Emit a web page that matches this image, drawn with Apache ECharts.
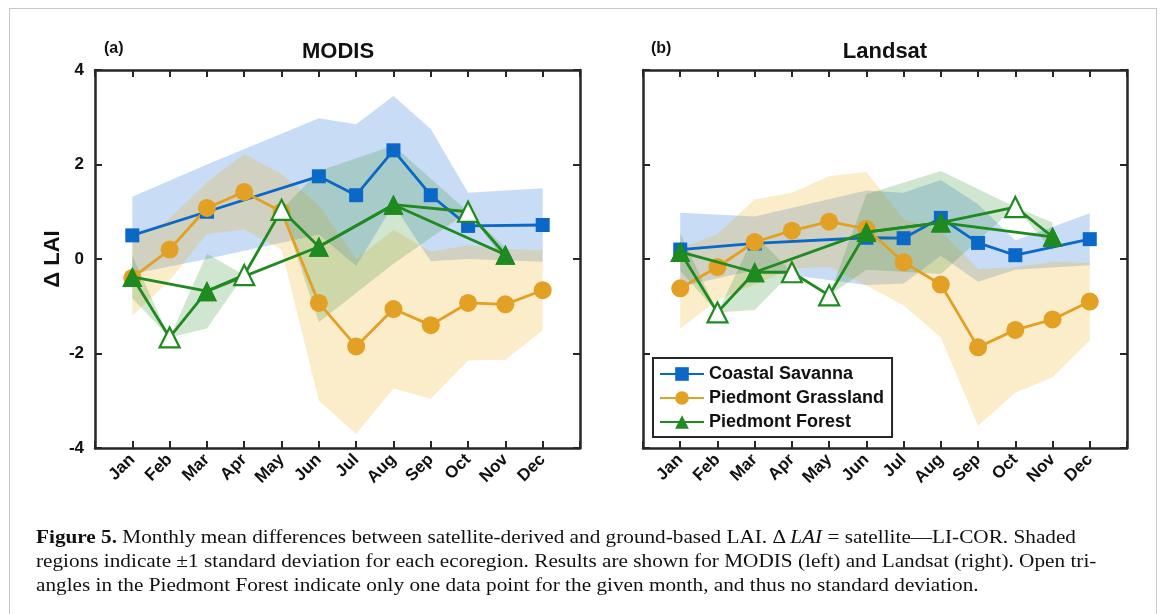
<!DOCTYPE html>
<html>
<head>
<meta charset="utf-8">
<style>
    html, body { margin: 0; padding: 0; background: #fff; }
    #frame { position: absolute; left: 9px; top: 8px; width: 1146px; height: 640px; border: 1px solid #c8c8c8; }
    #chart { position: absolute; left: 0; top: 0; width: 1166px; height: 614px; }
    #cap { position: absolute; left: 36px; top: 525px; font-family: "Liberation Serif", serif; font-size: 18px; line-height: 24px; color: #111; white-space: nowrap; transform: scaleX(1.18); transform-origin: 0 0; }
</style>
</head>
<body>
<div id="frame"></div>
<div id="chart"></div>
<div id="cap">
    <div><b>Figure 5.</b> Monthly mean differences between satellite-derived and ground-based LAI. &Delta; <i>LAI</i> = satellite&mdash;LI-COR. Shaded</div>
    <div>regions indicate &plusmn;1 standard deviation for each ecoregion. Results are shown for MODIS (left) and Landsat (right). Open tri-</div>
    <div>angles in the Piedmont Forest indicate only one data point for the given month, and thus no standard deviation.</div>
</div>
<script src="https://cdn.jsdelivr.net/npm/echarts@6/dist/echarts.min.js"></script>
<script>
    var months = ['Jan', 'Feb', 'Mar', 'Apr', 'May', 'Jun', 'Jul', 'Aug', 'Sep', 'Oct', 'Nov', 'Dec'];
    var yTicks = [-4, -2, 0, 2, 4];

    // MODIS (a)  -- sd 0 = single data point (open triangle), null = no data
    var modisSavanna   = [0.50, null, 1.00, null, null, 1.75, 1.35, 2.30, 1.35, 0.70, null, 0.72];
    var modisSavannaSd = [0.82, null, 1.00, null, null, 1.23, 1.50, 1.15, 1.40, 0.70, null, 0.78];
    var modisGrass     = [-0.40, 0.20, 1.08, 1.42, 1.00, -0.93, -1.85, -1.06, -1.40, -0.93, -0.96, -0.66];
    var modisGrassSd   = [0.80, 0.65, 0.55, 0.80, 0.80, 2.07, 1.85, 1.68, 1.56, 1.22, 1.17, 0.85];
    var modisForest    = [-0.38, -1.66, -0.68, -0.34, 1.04, 0.26, null, 1.15, null, 1.00, 0.09, null];
    var modisForestSd  = [0.45, 0, 0.79, 0, 0, 1.60, null, 1.25, null, 0, 0.15, null];

    // Landsat (b)
    var landsatSavanna   = [0.20, null, 0.33, null, null, 0.45, 0.44, 0.87, 0.34, 0.08, null, 0.42];
    var landsatSavannaSd = [0.78, null, 0.57, null, null, 1.00, 0.96, 0.80, 0.82, 0.31, null, 0.55];
    var landsatGrass     = [-0.62, -0.17, 0.36, 0.60, 0.79, 0.64, -0.07, -0.54, -1.87, -1.50, -1.28, -0.90];
    var landsatGrassSd   = [0.85, 0.70, 0.90, 0.80, 0.96, 1.20, 0.91, 1.12, 1.66, 1.33, 1.22, 0.82];
    var landsatForest    = [0.15, -1.13, -0.28, -0.28, -0.77, 0.57, null, 0.77, null, 1.10, 0.47, null];
    var landsatForestSd  = [0.40, 0, 0.80, 0, 0, 0.80, null, 1.09, null, 0, 0.30, null];

    var BLUE = '#0b68c6', ORANGE = '#e2a024', GREEN = '#1f8a1f';
    var FONT = 'Liberation Sans';
    var AX = '#262626';

    function pts(mean) {
        var out = [];
        mean.forEach(function (v, i) { if (v != null) out.push([i + 1, v]); });
        return out;
    }

    function band(mean, sd, fill, gi) {
        var p = [];
        mean.forEach(function (v, i) {
            if (v != null && sd[i] != null) p.push([i + 1, v - sd[i], v + sd[i]]);
        });
        return {
            type: 'custom', xAxisIndex: gi * 2, yAxisIndex: gi * 2, silent: true, z: 1,
            data: p,
            renderItem: function (params, api) {
                if (params.dataIndex !== 0) return;
                var top = p.map(function (d) { return api.coord([d[0], d[2]]); });
                var bot = p.map(function (d) { return api.coord([d[0], d[1]]); }).reverse();
                return { type: 'polygon', shape: { points: top.concat(bot) }, style: { fill: fill } };
            }
        };
    }

    function line(name, mean, color, symbol, size, gi) {
        return {
            name: name, type: 'line', xAxisIndex: gi * 2, yAxisIndex: gi * 2, z: 3,
            data: pts(mean), symbol: symbol, symbolSize: size, showAllSymbol: true,
            lineStyle: { color: color, width: 2.8 },
            itemStyle: { color: color, opacity: 1 }
        };
    }

    // forest: one line through every month, one through the months with a standard deviation
    function forest(mean, sd, gi) {
        var all = mean.map(function (v, i) {
            if (v == null) return null;
            if (sd[i] === 0) return { value: [i + 1, v], itemStyle: { color: '#fff', borderColor: GREEN, borderWidth: 2.2 } };
            return { value: [i + 1, v] };
        }).filter(Boolean);
        var filled = [];
        mean.forEach(function (v, i) { if (v != null && sd[i] > 0) filled.push([i + 1, v]); });
        return [
            {
                name: 'Piedmont Forest', type: 'line', xAxisIndex: gi * 2, yAxisIndex: gi * 2, z: 4,
                data: all, symbol: 'triangle', symbolSize: 20, showAllSymbol: true,
                lineStyle: { color: GREEN, width: 2.8 }, itemStyle: { color: GREEN }
            },
            {
                name: 'forest-filled', type: 'line', xAxisIndex: gi * 2, yAxisIndex: gi * 2, z: 4,
                data: filled, symbol: 'triangle', symbolSize: 20, showAllSymbol: true,
                lineStyle: { color: GREEN, width: 2.8 }, itemStyle: { color: GREEN }
            }
        ];
    }

    function xAxes(gi) {
        var base = {
            gridIndex: gi, type: 'value', min: 0, max: 13, interval: 1,
            axisLine: { show: true, onZero: false, lineStyle: { color: AX, width: 2.5 } },
            axisTick: { show: true, inside: true, length: 7, lineStyle: { color: AX, width: 2 } },
            splitLine: { show: false }
        };
        return [
            Object.assign({}, base, {
                position: 'bottom',
                axisLabel: {
                    rotate: 45, margin: 9, fontFamily: FONT, fontWeight: 'bold', fontSize: 17, color: '#111',
                    formatter: function (v) { return months[v - 1] || ''; }
                }
            }),
            Object.assign({}, base, { position: 'top', axisLabel: { show: false } })
        ];
    }

    function yAxes(gi, labels) {
        var base = {
            gridIndex: gi, type: 'value', min: yTicks[0], max: yTicks[yTicks.length - 1], interval: 2,
            axisLine: { show: true, onZero: false, lineStyle: { color: AX, width: 2.5 } },
            axisTick: { show: true, inside: true, length: 7, lineStyle: { color: AX, width: 2 } },
            splitLine: { show: false }
        };
        var left = Object.assign({}, base, {
            position: 'left',
            axisLabel: { show: labels, margin: 11, fontFamily: FONT, fontWeight: 'bold', fontSize: 17, color: '#111' }
        });
        if (labels) {
            left.name = '\u0394 LAI';
            left.nameLocation = 'middle';
            left.nameGap = 31;
            left.nameTextStyle = { fontFamily: FONT, fontWeight: 'bold', fontSize: 22, color: '#111' };
        }
        return [left, Object.assign({}, base, { position: 'right', axisLabel: { show: false } })];
    }

    var chart = echarts.init(document.getElementById('chart'));

    var series = [
        band(modisSavanna, modisSavannaSd, 'rgba(60,130,220,0.28)', 0),
        band(modisGrass, modisGrassSd, 'rgba(237,177,32,0.24)', 0),
        band(modisForest, modisForestSd, 'rgba(46,139,46,0.22)', 0),
        band(landsatSavanna, landsatSavannaSd, 'rgba(60,130,220,0.28)', 1),
        band(landsatGrass, landsatGrassSd, 'rgba(237,177,32,0.24)', 1),
        band(landsatForest, landsatForestSd, 'rgba(46,139,46,0.22)', 1),
        line('Coastal Savanna', modisSavanna, BLUE, 'rect', 14, 0),
        line('Piedmont Grassland', modisGrass, ORANGE, 'circle', 18, 0),
        line('Coastal Savanna', landsatSavanna, BLUE, 'rect', 14, 1),
        line('Piedmont Grassland', landsatGrass, ORANGE, 'circle', 18, 1)
    ].concat(forest(modisForest, modisForestSd, 0), forest(landsatForest, landsatForestSd, 1));

    var option = {
        animation: false,
        grid: [
            { left: 95, top: 70, width: 485, height: 378 },
            { left: 643, top: 70, width: 484, height: 378 }
        ],
        xAxis: xAxes(0).concat(xAxes(1)),
        yAxis: yAxes(0, true).concat(yAxes(1, false)),
        legend: {
            data: ['Coastal Savanna', 'Piedmont Grassland', 'Piedmont Forest'],
            orient: 'vertical', left: 653, top: 358,
            itemWidth: 44, itemHeight: 17, itemGap: 6,
            padding: [7, 8, 6, 6],
            borderColor: AX, borderWidth: 2, backgroundColor: '#fff',
            textStyle: { fontFamily: FONT, fontWeight: 'bold', fontSize: 18, color: '#111' }
        },
        graphic: [
            { type: 'text', left: 104, top: 41, style: { text: '(a)', font: 'bold 16px ' + FONT, fill: '#111' } },
            { type: 'text', x: 338, y: 52, style: { text: 'MODIS', font: 'bold 22px ' + FONT, fill: '#111', align: 'center', verticalAlign: 'middle' } },
            { type: 'text', left: 651, top: 41, style: { text: '(b)', font: 'bold 16px ' + FONT, fill: '#111' } },
            { type: 'text', x: 885, y: 52, style: { text: 'Landsat', font: 'bold 22px ' + FONT, fill: '#111', align: 'center', verticalAlign: 'middle' } }
        ],
        series: series
    };
    chart.setOption(option);
</script>
</body>
</html>
